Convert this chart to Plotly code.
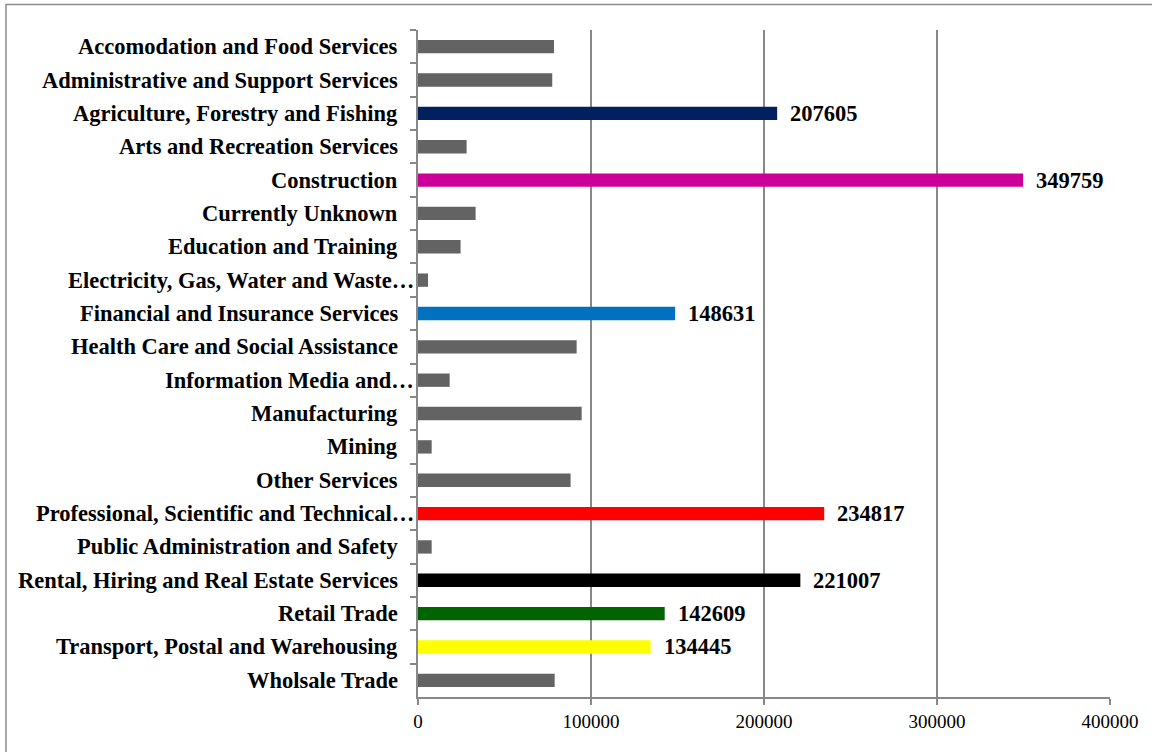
import plotly.graph_objects as go

categories = [
    "Accomodation and Food Services",
    "Administrative and Support Services",
    "Agriculture, Forestry and Fishing",
    "Arts and Recreation Services",
    "Construction",
    "Currently Unknown",
    "Education and Training",
    "Electricity, Gas, Water and Waste…",
    "Financial and Insurance Services",
    "Health Care and Social Assistance",
    "Information Media and…",
    "Manufacturing",
    "Mining",
    "Other Services",
    "Professional, Scientific and Technical…",
    "Public Administration and Safety",
    "Rental, Hiring and Real Estate Services",
    "Retail Trade",
    "Transport, Postal and Warehousing",
    "Wholsale Trade",
]
values = [78600, 77600, 207605, 28100, 349759, 33300, 24600, 5800, 148631, 91700,
          18300, 94600, 7900, 88200, 234817, 7900, 221007, 142609, 134445, 79000]
colors = ["#636363", "#636363", "#002060", "#636363", "#CC0099", "#636363", "#636363",
          "#636363", "#0070C0", "#636363", "#636363", "#636363", "#636363", "#636363",
          "#FF0000", "#636363", "#000000", "#006400", "#FFFF00", "#636363"]
labelled = [False, False, True, False, True, False, False, False, True, False,
            False, False, False, False, True, False, True, True, True, False]
truncated = [c.endswith("…") for c in categories]
x_ticks = [0, 100000, 200000, 300000, 400000]

FONT = "Liberation Serif, Times New Roman, serif"

fig = go.Figure(go.Bar(
    x=values, y=categories, orientation="h",
    marker=dict(color=colors, line=dict(width=0)),
    hoverinfo="x+y",
))

W, H = 1152, 752
ml, mr, mt, mb = 418, 42, 30, 55
pw, ph = W - ml - mr, H - mt - mb

annotations = []
for c, t in zip(categories, truncated):
    xp = -2 if t else -18
    annotations.append(dict(
        x=xp / pw, xref="paper", y=c, yref="y", text="<b>%s</b>" % c,
        xanchor="right", yanchor="middle", showarrow=False,
        font=dict(family=FONT, size=22.5, color="#000000"),
    ))
for c, v, lab in zip(categories, values, labelled):
    if lab:
        annotations.append(dict(
            x=v, xref="x", y=c, yref="y", text="<b>%d</b>" % v,
            xanchor="left", yanchor="middle", showarrow=False, xshift=11,
            font=dict(family=FONT, size=22.5, color="#000000"),
        ))

def px_x(p):
    return (p - ml) / pw

def px_y(p):
    return (H - mb - p) / ph

fig.update_layout(
    width=W, height=H,
    margin=dict(l=ml, r=mr, t=mt, b=mb),
    paper_bgcolor="white", plot_bgcolor="white",
    bargap=0.6, showlegend=False,
    annotations=annotations,
    shapes=[dict(type="rect", xref="paper", yref="paper",
                 x0=px_x(6), x1=px_x(1165), y0=px_y(765), y1=px_y(4.5),
                 line=dict(color="#8c8c8c", width=1.5), layer="below")],
    xaxis=dict(
        range=[0, 400000], tickvals=x_ticks, ticktext=[str(v) for v in x_ticks],
        showgrid=True, gridcolor="#888888", gridwidth=1.5,
        showline=True, linecolor="#888888", linewidth=1.5,
        ticks="outside", ticklen=6, tickcolor="#888888", tickwidth=1.5,
        tickfont=dict(family=FONT, size=19, color="#000000"),
        zeroline=False, fixedrange=True,
    ),
    yaxis=dict(
        type="category", autorange="reversed",
        showticklabels=False, tickson="boundaries",
        ticks="outside", ticklen=6, tickcolor="#888888", tickwidth=1.5,
        showline=True, linecolor="#888888", linewidth=1.5,
        showgrid=False, zeroline=False, fixedrange=True,
    ),
)

fig.write_html("out.html")
